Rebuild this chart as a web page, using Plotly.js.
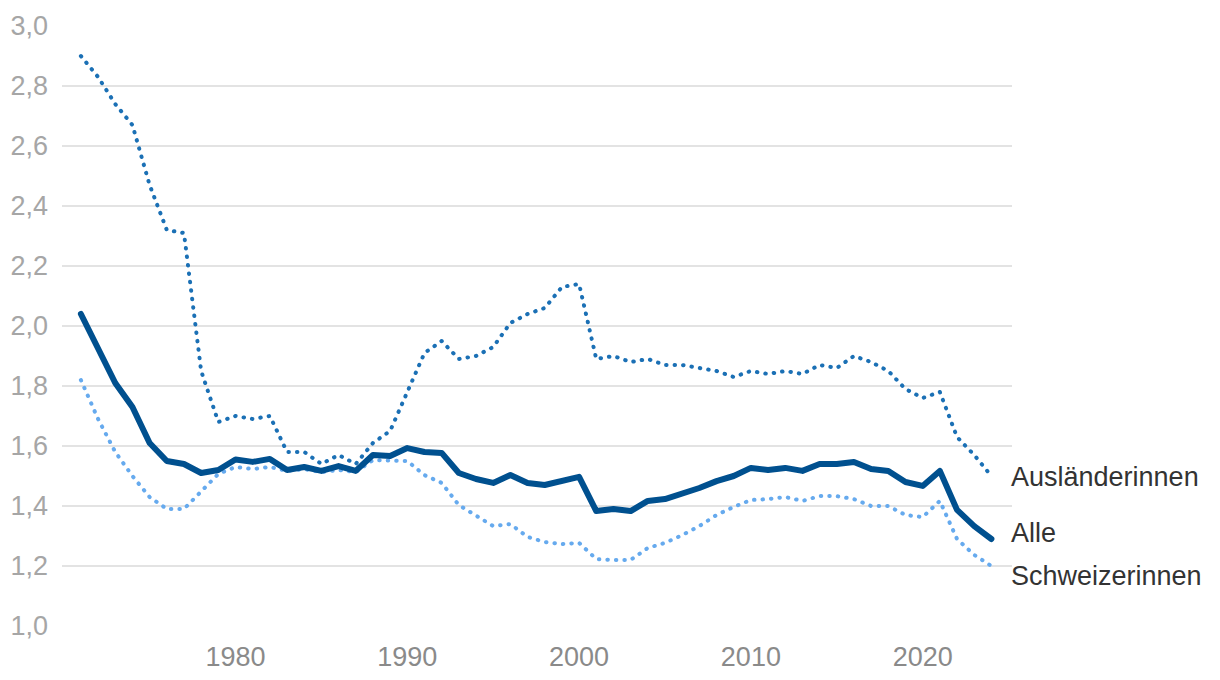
<!DOCTYPE html>
<html>
<head>
<meta charset="utf-8">
<script src="https://cdn.plot.ly/plotly-3.0.1.min.js"></script>
<style>
html,body{margin:0;padding:0;background:#fff;}
#chart{width:1220px;height:680px;}
#chart path.js-line{stroke-linecap:round !important;stroke-linejoin:round !important;}
</style>
</head>
<body>
<div id="chart"></div>
<script>
const years = [];
for (let y = 1971; y <= 2024; y++) years.push(y);

const alle = [2.04,1.92,1.81,1.73,1.61,1.55,1.54,1.51,1.52,1.555,
  1.547,1.557,1.52,1.53,1.517,1.533,1.517,1.57,1.567,1.593,
  1.58,1.577,1.51,1.49,1.477,1.503,1.477,1.47,1.483,1.497,
  1.383,1.39,1.383,1.417,1.423,1.44,1.46,1.483,1.50,1.527,
  1.52,1.527,1.517,1.54,1.54,1.547,1.523,1.517,1.48,1.467,
  1.517,1.387,1.333,1.29];

const auslaenderinnen = [2.90,2.83,2.74,2.67,2.47,2.32,2.31,1.85,1.68,1.70,
  1.69,1.70,1.58,1.58,1.54,1.57,1.54,1.61,1.65,1.78,
  1.91,1.95,1.89,1.90,1.93,2.01,2.04,2.06,2.13,2.14,
  1.89,1.90,1.88,1.89,1.87,1.87,1.86,1.85,1.83,1.85,
  1.84,1.85,1.84,1.87,1.86,1.90,1.88,1.85,1.79,1.76,
  1.78,1.63,1.57,1.50];

const schweizerinnen = [1.82,1.69,1.58,1.50,1.43,1.39,1.39,1.45,1.507,1.53,
  1.523,1.53,1.517,1.523,1.513,1.52,1.513,1.553,1.55,1.55,
  1.503,1.477,1.403,1.367,1.333,1.34,1.297,1.28,1.273,1.277,
  1.223,1.22,1.22,1.26,1.277,1.303,1.333,1.37,1.397,1.42,
  1.423,1.43,1.417,1.433,1.433,1.423,1.40,1.40,1.37,1.363,
  1.417,1.29,1.237,1.20];

const seriesNames = ['Ausländerinnen', 'Alle', 'Schweizerinnen'];
const yTicks = [1.0,1.2,1.4,1.6,1.8,2.0,2.2,2.4,2.6,2.8,3.0];
const xTicks = [1980,1990,2000,2010,2020];

const colors = {alle:'#00508f', aus:'#1b70b5', ch:'#66aaee'};

const traces = [
  {x: years, y: schweizerinnen, name: seriesNames[2], mode:'lines',
   line:{color:colors.ch, width:4, dash:'0.5px,8px'}},
  {x: years, y: auslaenderinnen, name: seriesNames[0], mode:'lines',
   line:{color:colors.aus, width:4, dash:'0.5px,8px'}},
  {x: years, y: alle, name: seriesNames[1], mode:'lines',
   line:{color:colors.alle, width:6}}
];

const last = years.length - 1;
const labelFont = {family:'"Liberation Sans", Arial, sans-serif', size:27, color:'#333333'};
const annotations = [
  {x: years[last], y: auslaenderinnen[last], text: seriesNames[0], yshift: -1},
  {x: years[last], y: alle[last], text: seriesNames[1], yshift: 6},
  {x: years[last], y: schweizerinnen[last], text: seriesNames[2], yshift: -10}
].map(a => Object.assign({xref:'x', yref:'y', showarrow:false, xanchor:'left', yanchor:'middle',
  xshift: 18, font: labelFont}, a));

const layout = {
  width:1220, height:680,
  margin:{l:62, r:208, t:26, b:54},
  paper_bgcolor:'#ffffff', plot_bgcolor:'#ffffff',
  separators: ',.',
  showlegend:false,
  xaxis:{
    range:[1969.9, 2025.2],
    tickvals: xTicks, ticktext: xTicks.map(String),
    showgrid:false, zeroline:false, showline:false, ticks:'',
    ticklabelstandoff: 12,
    tickfont:{family:'"Liberation Sans", Arial, sans-serif', size:27, color:'#8a8a8a'}
  },
  yaxis:{
    range:[1.0, 3.0],
    tickvals: yTicks, tickformat: '.1f',
    showgrid:true, gridcolor:'#e3e3e3', gridwidth:2,
    zeroline:false, showline:false, ticks:'',
    ticklabelstandoff: 13,
    tickfont:{family:'"Liberation Sans", Arial, sans-serif', size:27, color:'#a6a6a6'}
  },
  annotations: annotations
};

Plotly.newPlot('chart', traces, layout, {displayModeBar:false, staticPlot:true});
</script>
</body>
</html>
